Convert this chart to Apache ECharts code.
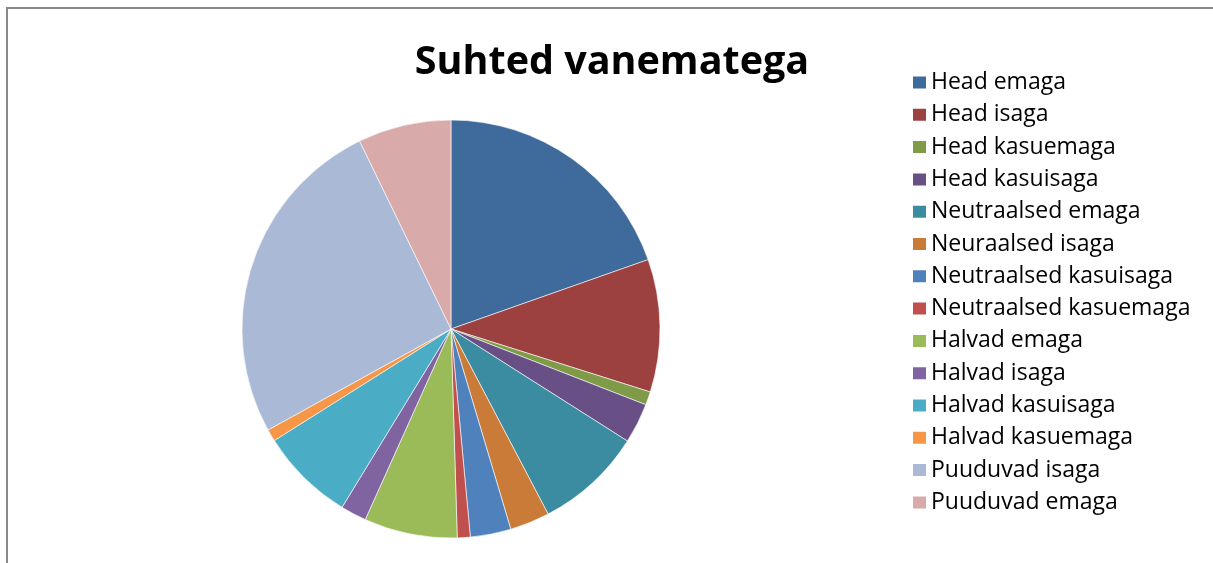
<!DOCTYPE html>
<html>
<head>
<meta charset="utf-8">
<script src="https://cdn.jsdelivr.net/npm/echarts@6/dist/echarts.min.js"></script>
<style>
  html, body { margin: 0; padding: 0; background: #fff; }
  /* kaader nagu Exceli diagrammil */
  #frame {
    position: absolute; left: 6px; top: 7px; width: 1220px; height: 570px;
    border-left: 2px solid #888; border-top: 2px solid #888;
  }
  #myChart { width: 1213px; height: 563px; }
</style>
</head>
<body>
<div id="frame"></div>
<div id="myChart"></div>
<script>
// andmed (osakaal %, loetud jooniselt)
var categories = [
  'Head emaga', 'Head isaga', 'Head kasuemaga', 'Head kasuisaga',
  'Neutraalsed emaga', 'Neuraalsed isaga', 'Neutraalsed kasuisaga', 'Neutraalsed kasuemaga',
  'Halvad emaga', 'Halvad isaga', 'Halvad kasuisaga', 'Halvad kasuemaga',
  'Puuduvad isaga', 'Puuduvad emaga'
]
var values = [19.6, 10.25, 1.03, 3.1, 8.3, 3.07, 3.14, 1.0, 7.2, 2.0, 7.3, 0.94, 25.8, 7.2]
var colors = [
  '#3F6B9C', '#9D4040', '#7F9B48', '#684F86', '#3C8CA1', '#CB7B38', '#4F81BD',
  '#C0504D', '#9BBB59', '#8064A2', '#4BACC6', '#F79646', '#AAB9D6', '#D9AAAA'
]

var myChart = echarts.init(document.getElementById('myChart'))
myChart.setOption({
  animation: false,
  color: colors,
  title: {
    text: 'Suhted vanematega',
    left: 607,
    textAlign: 'center',
    top: 38,
    textStyle: {
      fontFamily: 'Open Sans',
      fontWeight: 'bold',
      fontSize: 39.5,
      color: '#000'
    }
  },
  legend: {
    orient: 'vertical',
    left: 911,
    top: 71,
    padding: 0,
    itemWidth: 15,
    itemHeight: 14,
    itemGap: 9.3,
    icon: 'rect',
    textStyle: {
      fontFamily: 'Open Sans',
      fontSize: 23,
      lineHeight: 20,
      color: '#000',
      padding: [0, 0, 0, -1]
    },
    data: categories
  },
  series: [{
    type: 'pie',
    center: [451, 329],
    radius: 209,
    startAngle: 90,
    clockwise: true,
    label: { show: false },
    labelLine: { show: false },
    emphasis: { disabled: true },
    itemStyle: { borderColor: '#fff', borderWidth: 0.6 },
    data: categories.map(function (name, i) {
      return { name: name, value: values[i] }
    })
  }]
})
</script>
</body>
</html>
